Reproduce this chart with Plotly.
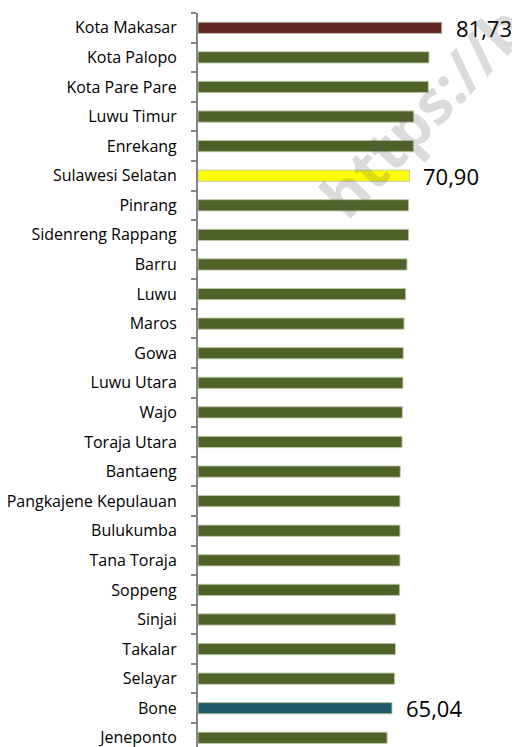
import plotly.graph_objects as go

# districts, sorted top to bottom as in the chart
regions = ["Kota Makasar", "Kota Palopo", "Kota Pare Pare", "Luwu Timur", "Enrekang",
           "Sulawesi Selatan", "Pinrang", "Sidenreng Rappang", "Barru", "Luwu",
           "Maros", "Gowa", "Luwu Utara", "Wajo", "Toraja Utara",
           "Bantaeng", "Pangkajene Kepulauan", "Bulukumba", "Tana Toraja", "Soppeng",
           "Sinjai", "Takalar", "Selayar", "Bone", "Jeneponto"]
values = [81.73, 77.44, 77.2, 72.3, 72.2,
          70.90, 70.6, 70.6, 70.06, 69.6,
          69.06, 68.8, 68.7, 68.5, 68.4,
          67.8, 67.7, 67.7, 67.7, 67.6,
          66.3, 66.2, 65.9, 65.04, 63.4]
labelled = ["Kota Makasar", "Sulawesi Selatan", "Bone"]

GREEN = "#4f6228"
special = {"Kota Makasar": "#632523", "Sulawesi Selatan": "#ffff00", "Bone": "#215968"}
colors = [special.get(r, GREEN) for r in regions]

fig = go.Figure()
fig.add_trace(go.Bar(
    x=values, y=regions, orientation="h",
    marker=dict(color=colors, line=dict(color="rgba(190,200,170,0.9)", width=1)),
    width=0.38, hoverinfo="skip",
))

# value labels for the highlighted bars
for r, v in zip(regions, values):
    if r in labelled:
        fig.add_annotation(x=v, y=r, text=f"{v:.2f}".replace(".", ","),
                           xanchor="left", yanchor="middle", xshift=12,
                           showarrow=False,
                           font=dict(family="Open Sans", size=22, color="#000000"))

# watermark
fig.add_annotation(xref="paper", yref="paper", x=(435 - 198) / 322, y=(747 - 98) / 734,
                   xanchor="center", yanchor="middle", text="<b>https://bo</b>",
                   textangle=-46, showarrow=False,
                   font=dict(family="Open Sans", size=60, color="rgba(90,90,90,0.22)"))

# page body has an 8px margin, so the figure is 8px smaller than the window
fig.update_layout(
    width=512, height=739,
    margin=dict(l=190, r=0, t=5, b=0),
    plot_bgcolor="white", paper_bgcolor="white",
    showlegend=False,
    font=dict(family="Open Sans", size=16, color="#000000"),
    xaxis=dict(range=[0, 107.95], visible=False),
    yaxis=dict(type="category", categoryorder="array", categoryarray=regions,
               range=[24.31, -0.5], showline=True, linecolor="#868686", linewidth=2,
               ticks="outside", tickson="boundaries", ticklen=5, tickwidth=1.5,
               tickcolor="#868686", ticklabelstandoff=16, showgrid=False,
               zeroline=False),
)

fig.write_html("out.html")
